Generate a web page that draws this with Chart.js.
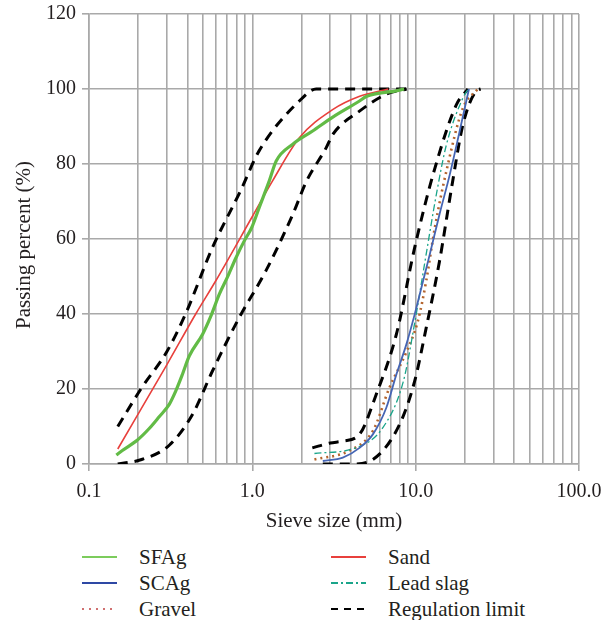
<!DOCTYPE html>
<html>
<head>
<meta charset="utf-8">
<title>Sieve analysis</title>
<script src="https://cdn.jsdelivr.net/npm/chart.js@4.4.0/dist/chart.umd.min.js"></script>
<style>
  html, body { margin: 0; padding: 0; background: #fff; }
  #wrap { position: relative; width: 603px; height: 620px; }
  #chartBox { position: absolute; left: 0; top: 0; width: 603px; height: 540px; }
  #legend { position: absolute; left: 0; top: 540px; width: 603px; height: 80px;
            font-family: 'Liberation Serif', serif; font-size: 21px; color: #231f20; }
  .item { position: absolute; height: 26px; display: flex; align-items: center; white-space: nowrap; }
  .item canvas { margin-right: 22px; }
</style>
</head>
<body>
<div id="wrap">
  <div id="chartBox"><canvas id="myChart"></canvas></div>
  <div id="legend"></div>
</div>
<script>
// sieve sizes (mm) and passing percent
const sfagSize = [0.147, 0.16, 0.198, 0.233, 0.269, 0.31, 0.34, 0.374, 0.411, 0.496, 0.558, 0.628, 0.705, 0.794, 0.893, 0.99, 1.104, 1.27, 1.4, 1.77, 2.34, 3.11, 4.53, 4.98, 7.6, 8.5];
const sfagPass = [2.4, 3.6, 6.4, 9.4, 12.6, 15.9, 19.5, 24, 28.8, 34.6, 39.5, 45.3, 49.9, 55, 59.5, 63, 68.5, 75.5, 80.8, 85.3, 88.8, 92.5, 96.8, 98, 99.5, 100];

const sandSize = [0.15, 0.3, 0.45, 0.6, 1.0, 1.33, 1.94, 3.1, 4.5, 6.8];
const sandPass = [4, 26.5, 40, 49, 66, 75.5, 87, 94.5, 98, 100];

const scagSize = [2.7, 3.58, 4.53, 5.47, 6.61, 7.62, 8.77, 9.86, 11.1, 12.2, 14.0, 16.2, 18.6, 21.2];
const scagPass = [0.8, 1.7, 4.3, 7.9, 15, 23.9, 31.9, 39.9, 48.8, 55.9, 66.6, 77.3, 88.8, 100];

const slagSize = [2.4, 4.3, 6.3, 8.4, 9.9, 11.4, 13.4, 15.4, 19.5, 21];
const slagPass = [2.8, 4.3, 9.7, 22, 38, 54, 72, 85, 97.7, 100];

const gravelSize = [2.4, 3.9, 5.5, 6.9, 8.8, 10.3, 11.6, 13.1, 15.4, 19.5, 24];
const gravelPass = [1.2, 3.5, 9, 20.3, 30, 38, 48.8, 63, 78, 95, 100];

// regulation limits: fine upper/lower, coarse upper/lower
const fineUpSize = [0.15, 0.21, 0.3, 0.39, 0.57, 0.85, 1.1, 1.94, 2.46, 9.0];
const fineUpPass = [10, 20.3, 30, 40, 57.7, 73, 83.5, 96.8, 100, 100];
const fineLoSize = [0.15, 0.21, 0.31, 0.43, 0.57, 0.83, 1.21, 1.77, 2.15, 2.83, 3.11, 4.53, 6.6, 8.8];
const fineLoPass = [0, 1.2, 5, 13.2, 24.8, 39, 51.5, 66.6, 75.5, 84.3, 87.9, 94.1, 98.6, 100];
const coarseUpSize = [2.33, 3.0, 3.58, 4.53, 5.74, 7.62, 9.86, 12.8, 17.8, 20.9];
const coarseUpPass = [4.3, 5.6, 6.1, 7.9, 18.6, 34.6, 57.7, 77.3, 95.9, 100];
const coarseLoSize = [2.7, 4.12, 5.47, 7.98, 9.86, 11.6, 14.0, 16.6, 19.5, 23.5, 25];
const coarseLoPass = [0, 0, 1.2, 10.6, 22.1, 36.3, 54.1, 73.7, 90.6, 99.5, 100];

// axis ticks
const xTicks = [0.1, 0.2, 0.3, 0.4, 0.5, 0.6, 0.7, 0.8, 0.9,
                1, 2, 3, 4, 5, 6, 7, 8, 9,
                10, 20, 30, 40, 50, 60, 70, 80, 90, 100];
const xTickLabels = { 0.1: "0.1", 1: "1.0", 10: "10.0", 100: "100.0" };

function pts(xs, ys) {
  return xs.map((x, i) => ({ x: x, y: ys[i] }));
}

const GRID = "#a9a9a9";
const TEXT = "#231f20";
const SERIF = "'Liberation Serif', serif";

const limitStyle = {
  label: "Regulation limit",
  borderColor: "#000000",
  borderWidth: 3,
  borderDash: [10, 7],
};

const datasets = [
  { label: "SFAg", data: pts(sfagSize, sfagPass), borderColor: "#62bb46", borderWidth: 3.2, legendColor: "#7ccc5c" },
  { label: "Sand", data: pts(sandSize, sandPass), borderColor: "#e8403c", borderWidth: 1.6 },
  { label: "SCAg", data: pts(scagSize, scagPass), borderColor: "#4565b4", borderWidth: 1.8, legendColor: "#2e48a4" },
  { label: "Lead slag", data: pts(slagSize, slagPass), borderColor: "#1aa58a", borderWidth: 1.3, borderDash: [7, 3, 2, 3] },
  { label: "Gravel", data: pts(gravelSize, gravelPass), borderColor: "#b4642d", borderWidth: 2.6, borderDash: [2, 4], legendColor: "#d07070" },
  Object.assign({ data: pts(fineUpSize, fineUpPass) }, limitStyle),
  Object.assign({ data: pts(fineLoSize, fineLoPass), hideInLegend: true }, limitStyle),
  Object.assign({ data: pts(coarseUpSize, coarseUpPass), hideInLegend: true }, limitStyle),
  Object.assign({ data: pts(coarseLoSize, coarseLoPass), hideInLegend: true }, limitStyle),
];
datasets.forEach(function (d) {
  d.pointRadius = 0;
  d.fill = false;
  d.cubicInterpolationMode = "monotone";
});

// y title drawn by hand so it sits where the original has it
const yTitlePlugin = {
  id: "yTitle",
  afterDraw: function (chart) {
    const ctx = chart.ctx;
    ctx.save();
    ctx.translate(24, 245);
    ctx.rotate(-Math.PI / 2);
    ctx.font = "21px " + SERIF;
    ctx.fillStyle = TEXT;
    ctx.textAlign = "center";
    ctx.textBaseline = "middle";
    ctx.fillText("Passing percent (%)", 0, 0);
    ctx.restore();
  },
};

const config = {
  type: "line",
  data: { datasets: datasets },
  plugins: [yTitlePlugin],
  options: {
    responsive: true,
    maintainAspectRatio: false,
    animation: false,
    layout: { padding: { top: 14, right: 24, left: 0, bottom: 0 } },
    plugins: {
      legend: { display: false },
      tooltip: { enabled: false },
    },
    scales: {
      x: {
        type: "logarithmic",
        min: 0.1,
        max: 100,
        afterBuildTicks: function (scale) {
          scale.ticks = xTicks.map(function (v) { return { value: v }; });
        },
        afterFit: function (scale) {
          scale.height = 76;
          scale.paddingLeft = 0;
          scale.paddingRight = 0;
        },
        ticks: {
          autoSkip: false,
          maxRotation: 0,
          padding: 9,
          color: TEXT,
          font: { family: SERIF, size: 20 },
          callback: function (value) { return xTickLabels[value] || ""; },
        },
        grid: {
          color: GRID,
          lineWidth: 1.6,
          tickLength: 7,
          tickColor: function (ctx) {
            return ctx.tick && xTickLabels[ctx.tick.value] ? GRID : "rgba(0,0,0,0)";
          },
        },
        border: { color: GRID, width: 1.6 },
        title: {
          display: true,
          text: "Sieve size (mm)",
          color: TEXT,
          font: { family: SERIF, size: 21 },
          padding: { top: 0, bottom: 6 },
        },
      },
      y: {
        min: 0,
        max: 120,
        afterFit: function (scale) {
          scale.width = 89;
          scale.paddingTop = 0;
          scale.paddingBottom = 0;
        },
        ticks: {
          stepSize: 20,
          padding: 6,
          color: TEXT,
          font: { family: SERIF, size: 20 },
        },
        grid: { color: GRID, lineWidth: 1.6, tickLength: 7, tickColor: GRID },
        border: { color: GRID, width: 1.6 },
        title: { display: false },
      },
    },
  },
};

const myChart = new Chart(document.getElementById("myChart"), config);

// two-column legend below the chart
const legendBox = document.getElementById("legend");
const colX = [82, 331];
const rowY = [4, 30, 56];
let n = 0;
myChart.data.datasets.forEach(function (ds) {
  if (ds.hideInLegend) return;
  const item = document.createElement("div");
  item.className = "item";
  item.style.left = colX[n % 2] + "px";
  item.style.top = rowY[Math.floor(n / 2)] + "px";
  const c = document.createElement("canvas");
  c.width = 35; c.height = 8;
  const g = c.getContext("2d");
  g.strokeStyle = ds.legendColor || ds.borderColor;
  g.lineWidth = ds.label === "Regulation limit" ? 1.8 : 2;
  g.setLineDash(ds.label === "Regulation limit" ? [7, 6] : (ds.borderDash ? (ds.label === "Gravel" ? [2, 5] : ds.borderDash) : []));
  g.beginPath(); g.moveTo(0, 4); g.lineTo(35, 4); g.stroke();
  item.appendChild(c);
  const t = document.createElement("span");
  t.textContent = ds.label;
  item.appendChild(t);
  legendBox.appendChild(item);
  n++;
});
</script>
</body>
</html>
